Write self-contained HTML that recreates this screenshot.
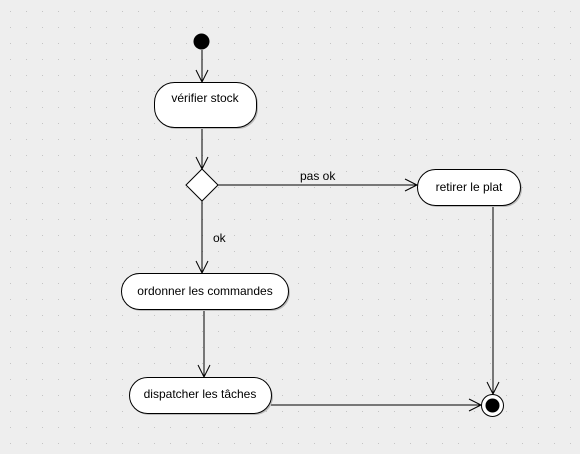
<!DOCTYPE html>
<html><head><meta charset="utf-8"><style>
html,body{margin:0;padding:0;background:#eeeeee;}
svg{display:block;font-family:"Liberation Sans",sans-serif;font-size:12px;}
</style></head><body>
<svg width="580" height="454" xmlns="http://www.w3.org/2000/svg">
<defs>
<pattern id="g" x="10" y="11" width="16" height="16" patternUnits="userSpaceOnUse">
<rect x="0" y="0" width="1" height="1" fill="#c4c4c4"/>
</pattern>
</defs>
<rect width="580" height="454" fill="#eeeeee"/>
<rect width="580" height="454" fill="url(#g)"/>
<g stroke="#000" fill="none" stroke-width="1">
<!-- connectors -->
<line x1="202" y1="50" x2="202" y2="82"/>
<polyline points="196,70 202,82 208,70"/>
<line x1="202" y1="127" x2="202" y2="169"/>
<polyline points="196,157 202,169 208,157"/>
<line x1="202" y1="201" x2="202" y2="273"/>
<polyline points="196,261 202,273 208,261"/>
<line x1="218" y1="185" x2="417" y2="185"/>
<polyline points="405,179 417,185 405,191"/>
<line x1="204" y1="309" x2="204" y2="377"/>
<polyline points="198,365 204,377 210,365"/>
<line x1="493" y1="205" x2="493" y2="394"/>
<polyline points="487,382 493,394 499,382"/>
<line x1="271" y1="405" x2="481" y2="405"/>
<polyline points="469,399 481,405 469,411"/>
</g>
<!-- shadows -->
<g fill="#bbbbbb">
<rect x="156" y="84" width="102" height="45" rx="20"/>
<rect x="419" y="171" width="103" height="36" rx="18"/>
<rect x="123" y="275" width="167" height="36" rx="18"/>
<rect x="131" y="379" width="142" height="36" rx="18"/>
</g>
<g fill="#fff" stroke="#000">
<rect x="154.5" y="82.5" width="102" height="45" rx="20"/>
<rect x="417.5" y="169.5" width="103" height="36" rx="18"/>
<rect x="121.5" y="273.5" width="167" height="36" rx="18"/>
<rect x="129.5" y="377.5" width="142" height="36" rx="18"/>
<polygon points="202,169 218,185 202,201 186,185"/>
<circle cx="492.5" cy="405.5" r="11"/>
</g>
<circle cx="201.5" cy="41.5" r="8" fill="#000"/>
<circle cx="492.5" cy="405.5" r="7" fill="#000"/>
<g fill="#000">
<text x="205" y="102" text-anchor="middle">vérifier stock</text>
<text x="469" y="191" text-anchor="middle">retirer le plat</text>
<text x="205" y="295" text-anchor="middle">ordonner les commandes</text>
<text x="200" y="398" text-anchor="middle">dispatcher les tâches</text>
<text x="300" y="180">pas ok</text>
<text x="213" y="242">ok</text>
</g>
</svg>
</body></html>
